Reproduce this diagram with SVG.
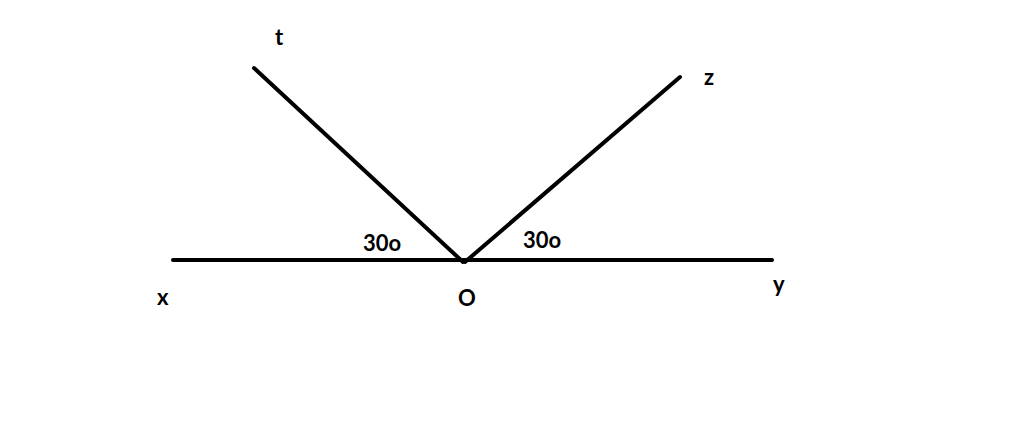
<svg xmlns="http://www.w3.org/2000/svg" width="1024" height="445" viewBox="0 0 1024 445">
<style>
.ln{stroke:#000;stroke-width:4;stroke-linecap:round;fill:none}
.lb{font-family:Lato,"Open Sans","Liberation Sans",sans-serif;font-weight:bold;font-size:22px;fill:#000}
</style>
<rect width="1024" height="445" fill="#fff"/>
<g id="connectors">
<line class="ln" x1="173" y1="260" x2="772" y2="260"/>
<line class="ln" x1="254" y1="68" x2="463" y2="262"/>
<line class="ln" x1="680" y1="77" x2="465" y2="262"/>
</g>
<g id="node-t"><text class="lb" x="275" y="45">t</text></g>
<g id="node-z"><text class="lb" x="704" y="85">z</text></g>
<g id="node-x"><text class="lb" x="157" y="305">x</text></g>
<g id="node-O"><text class="lb" x="458" y="306">O</text></g>
<g id="node-y"><text class="lb" x="773" y="292">y</text></g>
<g id="angle-left"><text class="lb" x="363" y="251">30o</text></g>
<g id="angle-right"><text class="lb" x="523" y="248">30o</text></g>
</svg>
